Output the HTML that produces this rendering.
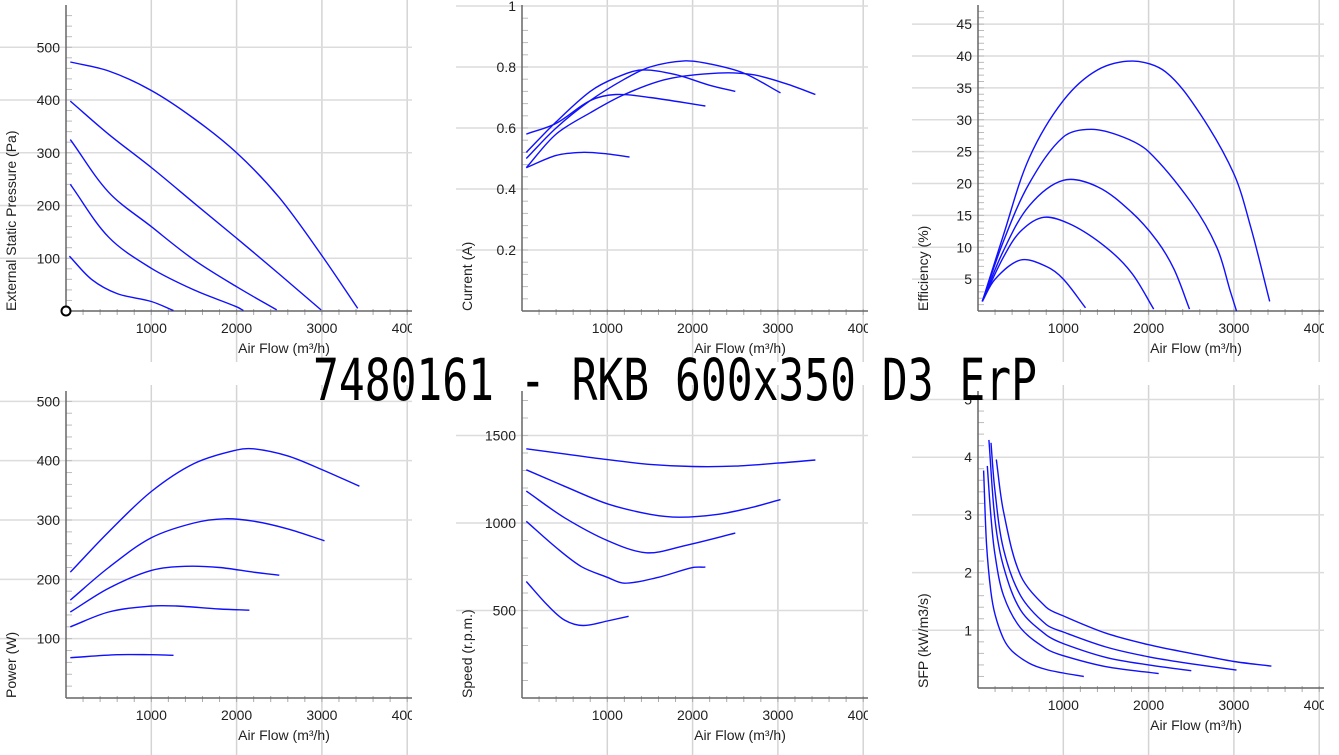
<!DOCTYPE html>
<html><head><meta charset="utf-8"><style>
html,body{margin:0;padding:0;background:#fff;}
svg{display:block;font-family:"Liberation Sans",Arial,sans-serif;}
</style></head><body>
<svg id="root" width="1339" height="755" viewBox="0 0 1339 755" xmlns="http://www.w3.org/2000/svg"></svg>
<script>
// ---- data (air flow in m3/h, values in chart units) ----
const xTicks = [1000, 2000, 3000, 4000];
const pressureTicks = [100, 200, 300, 400, 500];
const pressureFlows = [[50,500,1000,1500,2000,2500,3000,3420],[50,500,1000,1500,2000,2500,2990],[50,500,1000,1500,2000,2470],[50,500,1000,1500,2000,2080],[40,300,600,1000,1260]];
const pressureValues = [[472,455,418,365,300,215,105,5],[398,335,272,205,138,70,2],[325,225,160,97,46,2],[240,140,81,40,8,1],[104,60,33,18,1]];
const currentTicks = [0.2, 0.4, 0.6, 0.8, 1];
const currentFlows = [[50,400,700,1000,1260],[50,400,800,1100,1500,2150],[50,400,800,1100,1400,1800,2200,2500],[50,400,800,1200,1500,1900,2200,2600,3030],[50,400,800,1200,1700,2300,2700,3100,3440]];
const currentValues = [[0.47,0.51,0.52,0.515,0.505],[0.58,0.615,0.69,0.71,0.70,0.672],[0.52,0.62,0.72,0.765,0.79,0.775,0.74,0.72],[0.50,0.60,0.69,0.76,0.80,0.82,0.81,0.78,0.715],[0.47,0.58,0.65,0.71,0.76,0.78,0.775,0.745,0.71]];
const effTicks = [5,10,15,20,25,30,35,40,45];
const effFlows = [[50,300,600,1000,1400,1820,2200,2600,3000,3200,3420],[50,300,600,1000,1330,1700,2000,2500,2800,2960,3030],[50,300,600,1000,1400,1800,2100,2300,2480],[50,300,500,770,1100,1500,1800,2060],[50,200,500,800,1000,1260]];
const effValues = [[1.5,12,24,33,37.8,39.2,37.5,31,21.5,13,1.5],[1.5,11,20,27.3,28.5,27.3,25,17,10,3,0],[1.5,9.5,16.5,20.5,19.5,15.5,11,6.5,0.3],[1.5,8.5,12.5,14.7,13.5,10,6,0.3],[1.5,5,8,7,5,0.5]];
const powerTicks = [100,200,300,400,500];
const powerFlows = [[50,500,1000,1500,2000,2200,2600,3000,3440],[50,500,1000,1500,1860,2200,2600,3030],[50,500,1000,1400,1800,2200,2500],[50,500,1000,1300,1800,2150],[50,600,1000,1260]];
const powerValues = [[212,280,348,395,418,420,408,385,357],[165,220,270,295,302,298,285,265],[145,185,215,222,220,212,207],[120,145,155,155,150,148],[68,73,73,72]];
const speedTicks = [500,1000,1500];
const speedFlows = [[50,500,1000,1500,2000,2500,3000,3440],[50,500,1000,1500,1850,2300,2700,3030],[50,500,1000,1460,1900,2500],[50,400,700,1000,1200,1600,2000,2150],[50,300,500,716,1000,1250]];
const speedValues = [[1424,1395,1362,1335,1323,1325,1342,1360],[1304,1210,1110,1050,1033,1050,1090,1134],[1182,1030,900,830,870,942],[1010,860,750,690,656,690,745,748],[666,530,445,414,440,467]];
const sfpTicks = [1,2,3,4,5];
const sfpFlows = [[66,100,150,200,300,400,600,800,1000,1240],[109,150,200,300,500,800,1000,1500,2118],[128,200,300,500,800,1000,1500,2000,2500],[152,200,300,500,800,1000,1500,2000,2500,3030],[214,300,500,800,1000,1500,2000,2500,3000,3440]];
const sfpValues = [[3.77,2.5,1.68,1.27,0.85,0.64,0.43,0.32,0.26,0.2],[3.85,3.0,2.3,1.6,1.04,0.68,0.56,0.37,0.25],[4.3,2.9,2.1,1.35,0.92,0.77,0.53,0.4,0.3],[4.25,3.4,2.4,1.6,1.1,0.97,0.71,0.54,0.42,0.31],[3.96,3.05,1.95,1.4,1.25,0.95,0.75,0.6,0.46,0.38]];

const NS = "http://www.w3.org/2000/svg";
const root = document.getElementById('root');
function mk(tag, parent, attrs){const e=document.createElementNS(NS,tag);for(const k in attrs)e.setAttribute(k,attrs[k]);parent.appendChild(e);return e;}

function smoothPath(pts){
  const n=pts.length;
  const t=[0];
  for(let i=1;i<n;i++){t.push(t[i-1]+Math.hypot(pts[i][0]-pts[i-1][0],pts[i][1]-pts[i-1][1])||1e-6);}
  const tan=pts.map((p,i)=>{
    const a=pts[Math.max(0,i-1)],b=pts[Math.min(n-1,i+1)];
    const dt=t[Math.min(n-1,i+1)]-t[Math.max(0,i-1)]||1;
    return [(b[0]-a[0])/dt,(b[1]-a[1])/dt];
  });
  let d='M'+pts[0][0].toFixed(1)+','+pts[0][1].toFixed(1);
  for(let i=0;i<n-1;i++){
    const h=(t[i+1]-t[i])/3;
    const c1=[pts[i][0]+tan[i][0]*h,pts[i][1]+tan[i][1]*h];
    const c2=[pts[i+1][0]-tan[i+1][0]*h,pts[i+1][1]-tan[i+1][1]*h];
    d+=' C'+c1[0].toFixed(1)+','+c1[1].toFixed(1)+' '+c2[0].toFixed(1)+','+c2[1].toFixed(1)+' '+pts[i+1][0].toFixed(1)+','+pts[i+1][1].toFixed(1);
  }
  return d;
}

function panel(cfg){
  const {name,ox,oy,yPer,yTicks,yTitle,flows,values,top,gridTop,gridBottom,fmt}=cfg;
  const xs=v=>ox+v*0.0853;
  const ys=v=>oy-v*yPer;
  const g=mk('svg',root,{x:ox-66,y:gridTop,width:412,height:gridBottom-gridTop,overflow:'hidden'});
  
  
  const inner=mk('g',g,{transform:'translate('+(66-ox)+','+(-gridTop)+')'});
  xTicks.forEach(t=>{const l=mk('line',inner,{x1:xs(t),x2:xs(t),y1:gridTop,y2:gridBottom,stroke:'#d4d4d4','stroke-width':1.5});
    
    });
  yTicks.forEach(t=>{const l=mk('line',inner,{x1:ox-66,x2:ox+346,y1:ys(t),y2:ys(t),stroke:'#dcdcdc','stroke-width':1.5});
    
    });
  const step=(yTicks[1]-yTicks[0])/5;
  for(let v=step;ys(v)>top+2;v+=step){mk('line',inner,{x1:ox,x2:ox+6,y1:ys(v),y2:ys(v),stroke:'#bbb','stroke-width':1});}
  for(let v=200;v<=4000;v+=200){mk('line',inner,{x1:xs(v),x2:xs(v),y1:oy-2,y2:oy+4,stroke:'#aaa','stroke-width':1});}
  const ya=mk('line',inner,{x1:ox,x2:ox,y1:top,y2:oy,stroke:'#666','stroke-width':1.5});
  
  
  const xa=mk('line',inner,{x1:ox,x2:ox+346,y1:oy,y2:oy,stroke:'#666','stroke-width':1.5});
  
  
  xTicks.forEach(t=>{const e=mk('text',inner,{x:xs(t),y:oy+22,'text-anchor':'middle','font-size':14,fill:'#222'});e.textContent=String(t);
    
    });
  yTicks.forEach(t=>{const e=mk('text',inner,{x:ox-6,y:ys(t)+5,'text-anchor':'end','font-size':14,fill:'#222'});e.textContent=fmt?fmt(t):String(t);
    
    });
  const xt=mk('text',inner,{x:ox+218,y:oy+42,'text-anchor':'middle','font-size':14,fill:'#222'});xt.textContent='Air Flow (m³/h)';
  
  
  const yt=mk('text',inner,{x:0,y:0,'text-anchor':'start','font-size':14,fill:'#222',transform:'translate('+(ox-50)+','+oy+') rotate(-90)'});yt.textContent=yTitle;
  
  
  flows.forEach((fs,i)=>{
    const pts=fs.map((f,j)=>[xs(f),ys(values[i][j])]);
    const p=mk('path',inner,{d:smoothPath(pts),fill:'none',stroke:'#1010ff','stroke-width':1.4});
    
    
  });
  return inner;
}

const p1=panel({name:'pressure',ox:66,oy:311,yPer:0.5275,yTicks:pressureTicks,yTitle:'External Static Pressure (Pa)',flows:pressureFlows,values:pressureValues,top:5,gridTop:0,gridBottom:362});
const c=mk('circle',p1,{cx:66,cy:311,r:4.5,fill:'#fff',stroke:'#000','stroke-width':2});


panel({name:'current',ox:522,oy:311,yPer:305,yTicks:currentTicks,yTitle:'Current (A)',flows:currentFlows,values:currentValues,top:5,gridTop:0,gridBottom:362,fmt:t=>String(t)});
panel({name:'efficiency',ox:978,oy:311,yPer:6.375,yTicks:effTicks,yTitle:'Efficiency (%)',flows:effFlows,values:effValues,top:5,gridTop:0,gridBottom:362});
panel({name:'power',ox:66,oy:698,yPer:0.5933,yTicks:powerTicks,yTitle:'Power (W)',flows:powerFlows,values:powerValues,top:391,gridTop:385,gridBottom:755});
panel({name:'speed',ox:522,oy:698,yPer:0.175,yTicks:speedTicks,yTitle:'Speed (r.p.m.)',flows:speedFlows,values:speedValues,top:391,gridTop:385,gridBottom:755});
panel({name:'sfp',ox:978,oy:688,yPer:57.7,yTicks:sfpTicks,yTitle:'SFP (kW/m3/s)',flows:sfpFlows,values:sfpValues,top:391,gridTop:385,gridBottom:755});

const title=mk('text',root,{x:313,y:400,'font-family':'"DejaVu Sans Mono","Liberation Mono",monospace','font-size':58,fill:'#000',textLength:724,lengthAdjust:'spacingAndGlyphs'});
title.textContent='7480161 - RKB 600x350 D3 ErP';


</script>
</body></html>
